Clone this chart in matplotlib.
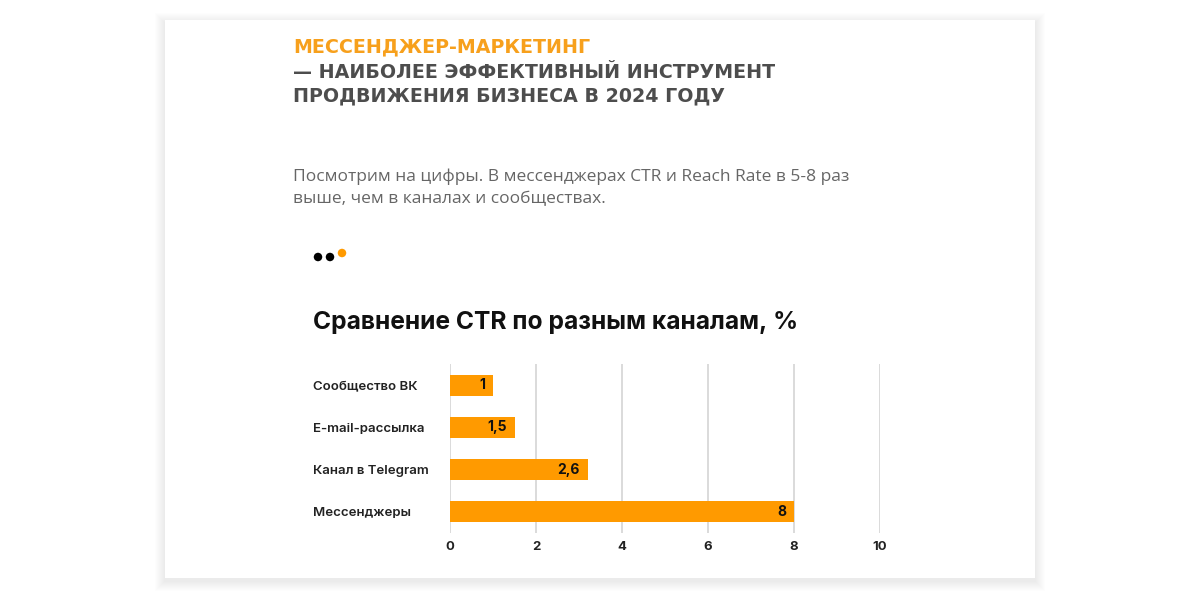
import numpy as np
import matplotlib.pyplot as plt
from matplotlib.patches import Rectangle, Ellipse

# データ---------------------------------------------------------------
channels = ['Сообщество ВК', 'E-mail-рассылка', 'Канал в Telegram', 'Мессенджеры']
ctr_bars = [1.0, 1.5, 3.2, 8.0]
ctr_labels = ['1', '1,5', '2,6', '8']
x_ticks = [0, 2, 4, 6, 8, 10]

orange = '#FF9A00'
W, H = 1200, 600

fig = plt.figure(figsize=(12, 6), dpi=100)
fig.patch.set_facecolor('white')

# カード（影付き）------------------------------------------------------
cx0, cy0, cx1, cy1 = 165, 20, 1035, 578
for g in range(1, 11):
    fig.patches.append(Rectangle(((cx0 - g) / W, 1 - (cy1 + g + 3) / H),
                                 (cx1 - cx0 + 2 * g) / W, (cy1 - cy0 + 2 * g) / H,
                                 transform=fig.transFigure, facecolor='black',
                                 alpha=0.006, edgecolor='none', zorder=0))
fig.patches.append(Rectangle((cx0 / W, 1 - cy1 / H), (cx1 - cx0) / W, (cy1 - cy0) / H,
                             transform=fig.transFigure, facecolor='white',
                             edgecolor='none', zorder=1))

# 見出し---------------------------------------------------------------
head_font = 'DejaVu Sans'
fig.text(293 / W, 1 - 47 / H, 'МЕССЕНДЖЕР-МАРКЕТИНГ', color='#F7A01C',
         fontsize=13.7, fontweight='bold', family=head_font, va='center', zorder=3)
fig.text(293 / W, 1 - 72 / H, '— НАИБОЛЕЕ ЭФФЕКТИВНЫЙ ИНСТРУМЕНТ', color='#4d4d4d',
         fontsize=13.7, fontweight='bold', family=head_font, va='center', zorder=3)
fig.text(293 / W, 1 - 96 / H, 'ПРОДВИЖЕНИЯ БИЗНЕСА В 2024 ГОДУ', color='#4d4d4d',
         fontsize=13.7, fontweight='bold', family=head_font, va='center', zorder=3)

fig.text(293 / W, 1 - 177 / H, 'Посмотрим на цифры. В мессенджерах CTR и Reach Rate в 5-8 раз',
         color='#666666', fontsize=12.5, family='Open Sans', va='center', zorder=3)
fig.text(293 / W, 1 - 199 / H, 'выше, чем в каналах и сообществах.',
         color='#666666', fontsize=12.5, family='Open Sans', va='center', zorder=3)

# 点
for (px, py, c) in [(318, 257, 'black'), (330, 257, 'black'), (342, 253, orange)]:
    fig.patches.append(Ellipse((px / W, 1 - py / H), 8.5 / W, 8.5 / H,
                               transform=fig.transFigure,
                               facecolor=c, edgecolor='none', zorder=3))

fig.text(313 / W, 1 - 322 / H, 'Сравнение CTR по разным каналам, %', color='#111111',
         fontsize=17.7, fontweight='bold', family='Inter', va='center', zorder=3)

# グラフ---------------------------------------------------------------
ax = fig.add_axes([450 / W, 1 - 533 / H, 430 / W, 169 / H], zorder=4)
ax.set_facecolor('none')
y = np.arange(len(channels))
ax.barh(y, ctr_bars, height=0.5, color=orange, zorder=3)
for yi, v, lab in zip(y, ctr_bars, ctr_labels):
    ax.text(v - 0.18, yi, lab, ha='right', va='center', fontsize=10,
            fontweight='bold', family='Inter', color='#111111', zorder=4)

ax.set_xlim(0, 10)
ax.set_ylim(len(channels) - 0.5, -0.5)
ax.set_xticks(x_ticks)
ax.set_xticklabels([str(t) for t in x_ticks], fontsize=9.5, fontweight='bold',
                   family='Inter', color='#222222')
ax.set_yticks(y)
ax.set_yticklabels(channels, fontsize=9.5, fontweight='semibold', family='Inter',
                   color='#222222', ha='left')
ax.tick_params(axis='y', length=0, pad=137 / 1.389)
ax.tick_params(axis='x', length=0, pad=6)
ax.grid(axis='x', color='#d4d4d4', linewidth=1.2, zorder=0)
for s in ax.spines.values():
    s.set_visible(False)

fig.savefig('out.png', dpi=100)
